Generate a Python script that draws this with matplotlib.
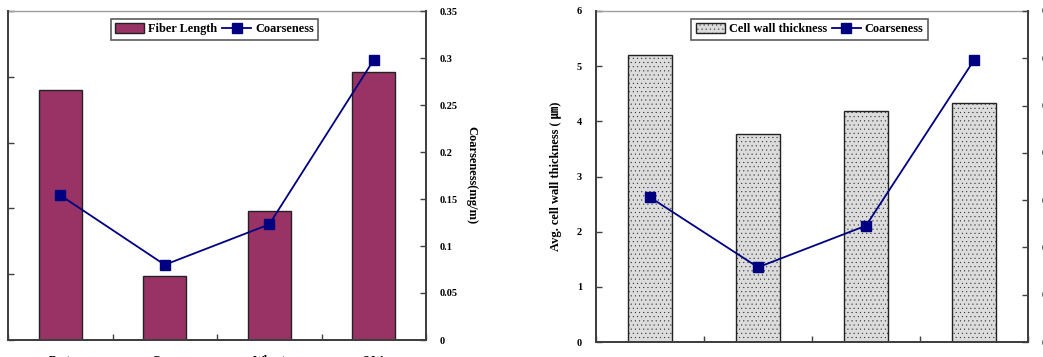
import matplotlib
matplotlib.use("Agg")
import matplotlib.pyplot as plt
import numpy as np

categories = ["Bast", "Corn", "Wheat", "S.W."]
fiber_length = [1.90, 0.49, 0.98, 2.04]
coarseness_left = [0.154, 0.080, 0.123, 0.298]
cell_wall = [5.20, 3.77, 4.18, 4.33]
coarseness_right = [0.153, 0.079, 0.123, 0.298]
left_ticks = [0, 0.5, 1.0, 1.5, 2.0, 2.5]
coarse_ticks = [0, 0.05, 0.1, 0.15, 0.2, 0.25, 0.3, 0.35]
thick_ticks = [0, 1, 2, 3, 4, 5, 6]

plt.rcParams['font.family'] = ['Liberation Serif', 'Noto Sans CJK JP', 'DejaVu Sans']
plt.rcParams['font.weight'] = 'bold'
FS = 7.5
LFS = 9
LEGFS = 8.8

W, H = 1043, 357
fig = plt.figure(figsize=(W/100, H/100), dpi=100)

def style(ax, twin):
    for s in ['left', 'right', 'bottom']:
        ax.spines[s].set_color('#404040')
        ax.spines[s].set_linewidth(1.4)
    ax.spines['top'].set_color('#a0a0a0')
    ax.spines['top'].set_linewidth(1.0)
    twin.spines['top'].set_visible(False)
    for s in ['left', 'right', 'bottom']:
        twin.spines[s].set_color('#404040')
        twin.spines[s].set_linewidth(1.4)

def panel(rect, bars, coarse, bar_color, bar_label, yt, ylim, ylabel=None, hatch=None):
    ax = fig.add_axes(rect)
    x = np.arange(len(categories))
    ax.bar(x, bars, width=0.41, color=bar_color, edgecolor='#222222', linewidth=1.0,
           hatch=hatch, label=bar_label, zorder=2)
    ax.set_xlim(-0.5, len(categories) - 0.5)
    ax.set_ylim(*ylim)
    ax.set_yticks(yt)
    ax.set_yticklabels([f"{v:g}" for v in yt], fontsize=FS, fontweight='bold')
    ax.set_xticks(np.arange(len(categories) + 1) - 0.5, minor=False)
    ax.set_xticklabels([])
    ax.set_xticks(x, minor=True)
    ax.set_xticklabels(categories, minor=True, fontsize=FS + 1, fontweight='bold')
    ax.tick_params(axis='x', which='major', direction='in', length=4, width=1, color='#404040')
    ax.tick_params(axis='x', which='minor', length=0, pad=11)
    ax.tick_params(axis='y', direction='in', length=4, width=1, color='#404040', pad=10)
    if ylabel:
        ax.set_ylabel(ylabel, fontsize=LFS, fontweight='bold', labelpad=11)
    tw = ax.twinx()
    tw.plot(x, coarse, color='#000080', marker='s', markersize=6.5, linewidth=1.3,
            label='Coarseness', zorder=3)
    tw.set_ylim(0, 0.35)
    tw.set_yticks(coarse_ticks)
    tw.set_yticklabels([f"{v:g}" for v in coarse_ticks], fontsize=FS, fontweight='bold')
    tw.tick_params(axis='y', direction='in', length=4, width=1, color='#404040', pad=10)
    tw.set_ylabel('Coarseness(mg/m)', rotation=270, fontsize=LFS, fontweight='bold', labelpad=14)
    style(ax, tw)
    h1, l1 = ax.get_legend_handles_labels()
    h2, l2 = tw.get_legend_handles_labels()
    leg = tw.legend(h1 + h2, l1 + l2, loc='center', bbox_to_anchor=(0.494, 0.945), ncol=2,
                    frameon=True, fancybox=False, edgecolor='#333333',
                    handlelength=2.4, handleheight=0.9, handletextpad=0.3, columnspacing=0.4,
                    borderpad=0.35, prop={'weight': 'bold', 'size': LEGFS})
    leg.get_frame().set_linewidth(1.2)
    return ax, tw

panel([8/W, 17/H, 418/W, 329/H], fiber_length, coarseness_left, '#993366', 'Fiber Length',
      left_ticks, (0, 2.5))
plt.rcParams['hatch.color'] = '#c6c6c6'
plt.rcParams['hatch.linewidth'] = 0.25
panel([596/W, 15/H, 432/W, 331/H], cell_wall, coarseness_right, '#dcdcdc', 'Cell wall thickness',
      thick_ticks, (0, 6), ylabel='Avg. cell wall thickness ( \u339b)', hatch='....')

fig.savefig('out.png', dpi=100)
